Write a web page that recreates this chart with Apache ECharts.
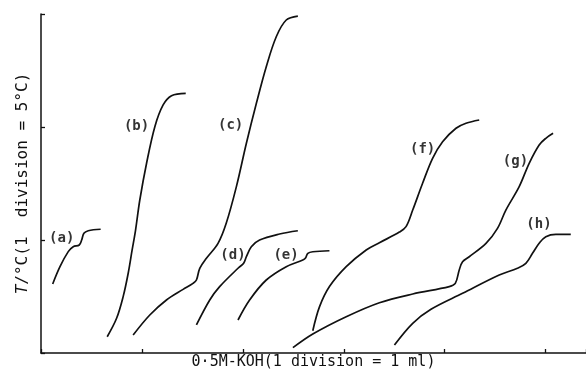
<!DOCTYPE html>
<html>
<head>
<meta charset="utf-8">
<script src="https://cdn.jsdelivr.net/npm/echarts@6/dist/echarts.min.js"></script>
<style>
  html, body { margin: 0; padding: 0; background: #fff; }
  #chart { width: 586px; height: 379px; }
</style>
</head>
<body>
<div id="chart"></div>
<script>
// curve names
var curveNames = ['(a)', '(b)', '(c)', '(d)', '(e)', '(f)', '(g)', '(h)'];

// x = ml of 0.5M KOH (1 division), y = temperature divisions
var aX = [0.116, 0.188, 0.270, 0.319, 0.379, 0.403, 0.425, 0.468, 0.591];
var aY = [0.611, 0.764, 0.897, 0.941, 0.956, 1.000, 1.059, 1.082, 1.095];

var bX = [0.656, 0.749, 0.814, 0.864, 0.903, 0.937, 0.979, 1.046, 1.128, 1.210, 1.293, 1.434];
var bY = [0.144, 0.307, 0.499, 0.706, 0.912, 1.088, 1.354, 1.679, 2.003, 2.195, 2.277, 2.298];

var cX = [0.913, 1.078, 1.243, 1.408, 1.506, 1.540, 1.573, 1.639, 1.754, 1.836, 1.936, 2.035, 2.134, 2.232, 2.331, 2.430, 2.545];
var cY = [0.159, 0.336, 0.469, 0.563, 0.616, 0.646, 0.749, 0.838, 0.970, 1.150, 1.472, 1.856, 2.210, 2.534, 2.799, 2.947, 2.982];

var dX = [1.540, 1.672, 1.770, 1.952, 2.008, 2.035, 2.084, 2.166, 2.364, 2.545];
var dY = [0.248, 0.469, 0.587, 0.750, 0.794, 0.852, 0.941, 1.000, 1.053, 1.082];

var eX = [1.952, 2.067, 2.232, 2.430, 2.594, 2.621, 2.644, 2.693, 2.858];
var eY = [0.292, 0.469, 0.646, 0.764, 0.823, 0.841, 0.882, 0.896, 0.905];

var fX = [2.693, 2.760, 2.858, 3.024, 3.222, 3.353, 3.551, 3.617, 3.683, 3.781, 3.880, 3.979, 4.112, 4.211, 4.342];
var fY = [0.197, 0.410, 0.588, 0.764, 0.912, 0.976, 1.070, 1.118, 1.265, 1.502, 1.723, 1.870, 1.989, 2.033, 2.062];

var gX = [2.496, 2.693, 3.024, 3.353, 3.683, 4.045, 4.105, 4.144, 4.177, 4.243, 4.409, 4.523, 4.606, 4.738, 4.837, 4.936, 5.002, 5.074];
var gY = [0.047, 0.168, 0.321, 0.445, 0.522, 0.587, 0.616, 0.735, 0.808, 0.852, 0.970, 1.103, 1.265, 1.472, 1.679, 1.841, 1.900, 1.944];

var hX = [3.502, 3.683, 3.864, 4.177, 4.540, 4.721, 4.804, 4.870, 4.936, 5.002, 5.101, 5.249];
var hY = [0.071, 0.263, 0.387, 0.528, 0.690, 0.750, 0.794, 0.882, 0.971, 1.029, 1.050, 1.050];

// where the (a)..(h) tags sit
var tagX = [0.205, 0.947, 1.879, 1.902, 2.428, 3.781, 4.701, 4.934];
var tagY = [1.018, 2.003, 2.018, 0.867, 0.867, 1.803, 1.693, 1.142];

var xTicks = [0, 1, 2, 3, 4, 5];
var yTicks = [0, 1, 2, 3];

var ink = '#111';
var font = 'DejaVu Sans Mono';

function pairs(xs, ys) {
  return xs.map(function (x, i) { return [x, ys[i]]; });
}

var curves = [[aX, aY], [bX, bY], [cX, cY], [dX, dY], [eX, eY], [fX, fY], [gX, gY], [hX, hY]];

var series = curves.map(function (c, i) {
  return {
    name: curveNames[i],
    type: 'line',
    data: pairs(c[0], c[1]),
    showSymbol: false,
    smooth: 0.35,
    lineStyle: { color: ink, width: 1.7 },
    silent: true
  };
});

// tags as text only
series.push({
  type: 'scatter',
  symbolSize: 0,
  silent: true,
  data: tagX.map(function (x, i) { return { value: [x, tagY[i]], name: curveNames[i] }; }),
  label: {
    show: true,
    position: 'inside',
    formatter: '{b}',
    color: '#000',
    textBorderWidth: 0,
    fontFamily: font,
    fontSize: 14,
    fontWeight: 'bold'
  }
});

var chart = echarts.init(document.getElementById('chart'), null, { renderer: 'canvas' });
chart.setOption({
  animation: false,
  backgroundColor: '#fff',
  grid: { left: 41, top: 14, width: 546, bottom: 26, containLabel: false },
  xAxis: {
    type: 'value',
    min: xTicks[0],
    max: 5.4,
    interval: 1,
    name: '0·5M-KOH(1 division = 1 ml)',
    nameLocation: 'middle',
    nameGap: 2,
    nameTextStyle: { color: ink, fontFamily: font, fontSize: 15, verticalAlign: 'top' },
    axisLine: { show: true, lineStyle: { color: ink, width: 1.5 } },
    axisTick: { show: true, inside: true, length: 4, lineStyle: { color: ink, width: 1.3 } },
    axisLabel: { show: false },
    splitLine: { show: false }
  },
  yAxis: {
    type: 'value',
    min: yTicks[0],
    max: yTicks[yTicks.length - 1],
    interval: 1,
    name: '{i|T}/°C(1  division = 5°C)',
    nameLocation: 'middle',
    nameGap: 10,
    nameRotate: 90,
    nameTextStyle: {
      color: ink, fontFamily: font, fontSize: 16,
      rich: { i: { fontStyle: 'italic', fontFamily: font, fontSize: 16, color: ink } }
    },
    axisLine: { show: true, lineStyle: { color: ink, width: 1.5 } },
    axisTick: { show: true, inside: true, length: 4, lineStyle: { color: ink, width: 1.3 } },
    axisLabel: { show: false },
    splitLine: { show: false }
  },
  series: series
});
</script>
</body>
</html>
